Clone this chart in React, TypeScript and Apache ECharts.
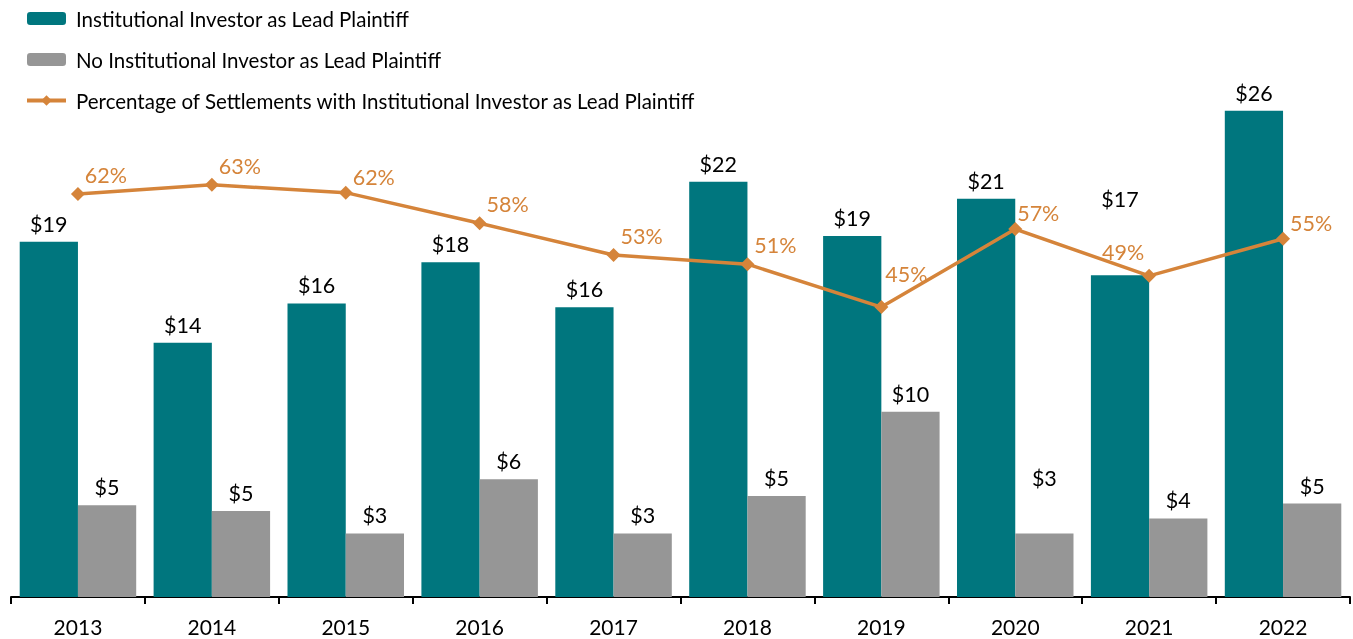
import React, { useEffect, useRef } from "react";
import * as echarts from "echarts";

const years = ["2013", "2014", "2015", "2016", "2017", "2018", "2019", "2020", "2021", "2022"];
const institutional = [19.0, 13.6, 15.7, 17.9, 15.5, 22.2, 19.3, 21.3, 17.2, 26.0];
const noInstitutional = [4.9, 4.6, 3.4, 6.3, 3.4, 5.4, 9.9, 3.4, 4.2, 5.0];
const percentage = [62.0, 63.4, 62.2, 57.5, 52.6, 51.2, 44.6, 56.6, 49.4, 55.1];

const TEAL = "#00767E";
const GRAY = "#969696";
const ORANGE = "#D5843A";
const FONT = "Lato";

export default function App() {
  const ref = useRef<HTMLDivElement>(null);
  useEffect(() => {
    if (!ref.current) return;
    const chart = echarts.init(ref.current, undefined, { renderer: "svg" });
    const pctOffsets: Record<number, number[]> = {
      2: [28, 7],
      6: [25, -10],
      8: [-26, -1],
      7: [23, 7],
      9: [28, 7],
    };
    chart.setOption({
      animation: false,
      textStyle: { fontFamily: FONT },
      legend: {
        orient: "vertical",
        left: 20,
        top: 3,
        itemWidth: 39,
        itemHeight: 13,
        itemGap: 20,
        textStyle: { fontSize: 20.5, color: "#000", fontFamily: FONT, padding: [0, 0, 0, 5] },
        data: [
          { name: "Institutional Investor as Lead Plaintiff" },
          { name: "No Institutional Investor as Lead Plaintiff" },
          {
            name: "Percentage of Settlements with Institutional Investor as Lead Plaintiff",
            lineStyle: { width: 4 },
          },
        ],
      },
      grid: { left: 11, right: 3, top: 36, bottom: 42 },
      xAxis: {
        type: "category",
        data: years,
        axisLine: { lineStyle: { color: "#000", width: 2 } },
        axisTick: { show: true, length: 7, lineStyle: { color: "#000", width: 2 } },
        axisLabel: { fontSize: 21, color: "#000", margin: 19, fontFamily: FONT },
      },
      yAxis: [
        { type: "value", min: 0, max: 30, show: false, splitLine: { show: false } },
        { type: "value", min: 0, max: 86.3, show: false, splitLine: { show: false } },
      ],
      series: [
        {
          name: "Institutional Investor as Lead Plaintiff",
          type: "bar",
          barGap: "0%",
          barCategoryGap: "13%",
          itemStyle: { color: TEAL },
          data: institutional.map((v, i) =>
            i === 8 ? { value: v, label: { offset: [0, -60] } } : v
          ),
          label: {
            show: true,
            position: "top",
            offset: [0, -2],
            fontSize: 21.5,
            color: "#000",
            fontFamily: FONT,
            formatter: (p: any) => "$" + Math.round(p.value),
          },
        },
        {
          name: "No Institutional Investor as Lead Plaintiff",
          type: "bar",
          itemStyle: { color: GRAY },
          data: noInstitutional.map((v, i) =>
            i === 7 ? { value: v, label: { offset: [0, -39] } } : v
          ),
          label: {
            show: true,
            position: "top",
            offset: [0, -2],
            fontSize: 21.5,
            color: "#000",
            fontFamily: FONT,
            formatter: (p: any) => "$" + Math.round(p.value),
          },
        },
        {
          name: "Percentage of Settlements with Institutional Investor as Lead Plaintiff",
          type: "line",
          yAxisIndex: 1,
          symbol: "diamond",
          symbolSize: 14,
          lineStyle: { color: ORANGE, width: 3.5 },
          itemStyle: { color: ORANGE },
          data: percentage.map((v, i) => ({
            value: v,
            label: { offset: pctOffsets[i] || [28, 4] },
          })),
          label: {
            show: true,
            position: "top",
            fontSize: 21.5,
            color: ORANGE,
            fontFamily: FONT,
            formatter: (p: any) => Math.round(p.value) + "%",
          },
        },
      ],
    });
    return () => chart.dispose();
  }, []);
  return (
    <div
      ref={ref}
      style={{ position: "fixed", left: 0, top: 0, width: 1353, height: 639 }}
    />
  );
}
